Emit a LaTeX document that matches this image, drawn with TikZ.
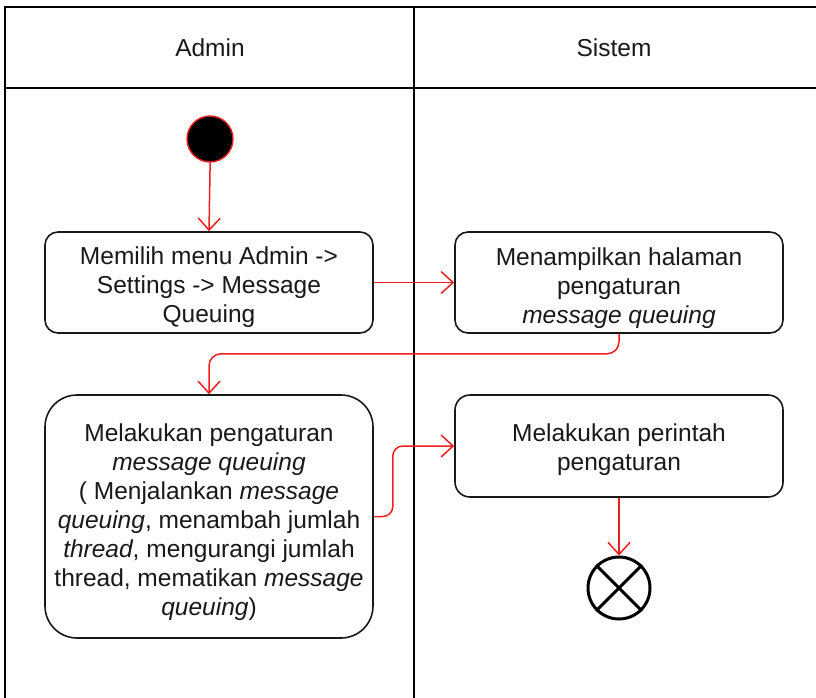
\documentclass[tikz,border=0pt]{standalone}
\usepackage{fontspec}
\setmainfont{Liberation Sans}
\usetikzlibrary{arrows.meta}
\definecolor{flowred}{RGB}{240,30,30}
\definecolor{inkgray}{RGB}{25,25,25}
\tikzset{
  lane/.style={line width=1.6pt, draw=black},
  actbox/.style={draw=inkgray, line width=1.6pt, fill=white, inner sep=0pt},
  acttext/.style={align=center, text=inkgray, font=\fontsize{24.5}{29}\selectfont, inner sep=0pt},
  flow/.style={draw=flowred, line width=1.5pt,
    -{Straight Barb[length=12pt,width=22pt,line width=1.5pt]}},
  lanelabel/.style={text=inkgray, font=\fontsize{24.5}{29}\selectfont}
}
\begin{document}
\begin{tikzpicture}[x=1pt,y=-1pt]
\useasboundingbox (0,0) rectangle (816,698);
% swimlane frame
\draw[lane] (5,698) -- (5,7) -- (816,7);
\draw[lane] (5,88) -- (816,88);
\draw[lane] (414,7) -- (414,698);
\node[lanelabel] (laneA) at (210,48) {Admin};
\node[lanelabel] (laneS) at (614,48) {Sistem};

% initial node
\node[circle, fill=black, draw=flowred, line width=1.4pt, minimum size=46pt, inner sep=0pt] (start) at (210,139) {};

% activities
\node[actbox, rounded corners=13pt, minimum width=328pt, minimum height=101pt] (b1) at (209,282.5) {};
\node[acttext] (b1t) at ([yshift=-5pt]b1.center)
  {Memilih menu Admin ->\\Settings -> Message\\Queuing};
\node[actbox, rounded corners=13pt, minimum width=328pt, minimum height=101pt] (b2) at (619,282.5) {};
\node[acttext] (b2t) at ([yshift=-6pt]b2.center)
  {Menampilkan halaman\\pengaturan\\\textit{message queuing}};
\node[actbox, rounded corners=32pt, minimum width=328pt, minimum height=243pt] (b3) at (209,516.5) {};
\node[acttext] (b3t) at ([yshift=-6pt]b3.center)
  {Melakukan pengaturan\\\textit{message queuing}\\( Menjalankan \textit{message}\\\textit{queuing}, menambah jumlah\\\textit{thread}, mengurangi jumlah\\thread, mematikan \textit{message}\\\textit{queuing})};
\node[actbox, rounded corners=15pt, minimum width=328pt, minimum height=102pt] (b4) at (619,446) {};
\node[acttext] (b4t) at ([yshift=-4pt]b4.center)
  {Melakukan perintah\\pengaturan};

% final node
\node[circle, draw=black, line width=3pt, minimum size=62pt, inner sep=0pt] (end) at (619,588) {};
\draw[line width=3pt] (end.north east) -- (end.south west);
\draw[line width=3pt] (end.north west) -- (end.south east);

% control flow
\draw[flow] (start.south) -- ++(0,8) -- (b1.north);
\draw[flow] (b1.east) -- (b2.west);
\draw[flow, rounded corners=12pt] (b2.south) -- ++(0,20) -| (b3.north);
\draw[flow, rounded corners=10pt] (b3.east) -- ++(19,0) |- (b4.west);
\draw[flow] (b4.south) -- (end.north);
\end{tikzpicture}
\end{document}
